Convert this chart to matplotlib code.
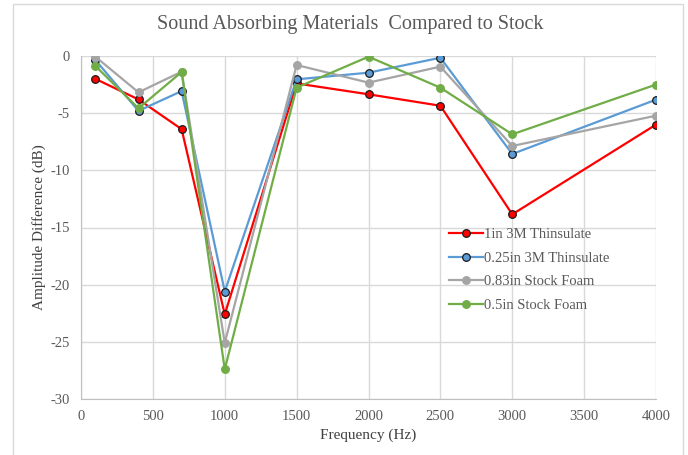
import matplotlib.pyplot as plt
from matplotlib.patches import Rectangle

plt.rcParams['font.family'] = ['Liberation Serif', 'DejaVu Serif']
plt.rcParams['axes.unicode_minus'] = False

freq = [100, 400, 700, 1000, 1500, 2000, 2500, 3000, 4000]
thins_1in = [-2.0, -3.8, -6.4, -22.6, -2.4, -3.35, -4.35, -13.85, -6.0]
thins_025in = [-0.35, -4.8, -3.07, -20.6, -2.04, -1.46, -0.15, -8.57, -3.82]
foam_083in = [-0.06, -3.18, -1.37, -25.1, -0.79, -2.33, -0.93, -7.87, -5.22]
foam_05in = [-0.87, -4.58, -1.4, -27.4, -2.77, -0.06, -2.77, -6.85, -2.5]

labels = ["1in 3M Thinsulate", "0.25in 3M Thinsulate",
          "0.83in Stock Foam", "0.5in Stock Foam"]
colors = ["#ff0000", "#5b9bd5", "#a5a5a5", "#70ad47"]
edges = ["#1a1a1a", "#1a1a1a", "#a5a5a5", "#70ad47"]

fig = plt.figure(figsize=(6.88, 4.55), dpi=100)
fig.patches.append(Rectangle((13/688, -0.01), 670/688, 1 - 4/455 + 0.01,
                             transform=fig.transFigure, fill=False,
                             edgecolor="#d9d9d9", linewidth=1))
ax = fig.add_axes([81/688, 1 - 399/455, 575/688, 343/455])

series = [thins_1in, thins_025in, foam_083in, foam_05in]
for ys, lab, c, ec in zip(series, labels, colors, edges):
    ax.plot(freq, ys, color=c, linewidth=1.6, marker="o", markersize=5.5,
            markerfacecolor=c, markeredgecolor=ec, markeredgewidth=0.9,
            label=lab)

ax.set_xlim(0, 4000)
ax.set_ylim(-30, 0)
ax.set_xticks(range(0, 4001, 500))
ax.set_yticks(range(-30, 1, 5))
ax.grid(True, color="#d9d9d9", linewidth=1)
ax.set_axisbelow(True)
for s in ["top", "right"]:
    ax.spines[s].set_visible(False)
for s in ["left", "bottom"]:
    ax.spines[s].set_color("#bfbfbf")
ax.tick_params(length=0, labelsize=10.5, labelcolor="#595959", pad=8)

ax.set_xlabel("Frequency (Hz)", fontsize=11, color="#404040", labelpad=4)
ax.set_ylabel("Amplitude Difference (dB)", fontsize=11, color="#404040", labelpad=3)
fig.text(350/688, 1 - 25/455, "Sound Absorbing Materials  Compared to Stock",
         ha="center", va="center", fontsize=14.5, color="#595959")

leg = ax.legend(loc="upper left", bbox_to_anchor=(0.63, 0.516), frameon=False,
                fontsize=10.5, labelspacing=0.72, handlelength=2.3,
                handletextpad=0.1, borderaxespad=0)
for t in leg.get_texts():
    t.set_color("#595959")

fig.savefig("out.png", dpi=100)
